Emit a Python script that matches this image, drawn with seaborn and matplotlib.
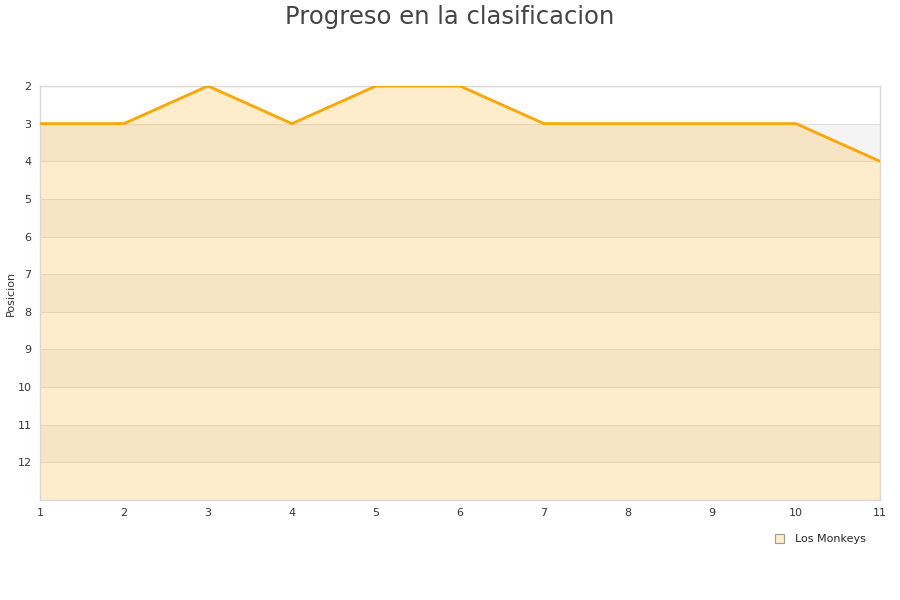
import matplotlib
matplotlib.use("Agg")
import matplotlib.pyplot as plt
import seaborn as sns
import pandas as pd
from matplotlib.patches import Patch

# Datos
jornadas = [1, 2, 3, 4, 5, 6, 7, 8, 9, 10, 11]
posiciones = [3, 3, 2, 3, 2, 2, 3, 3, 3, 3, 4]
equipo = "Los Monkeys"
y_ticks = [2, 3, 4, 5, 6, 7, 8, 9, 10, 11, 12]

df = pd.DataFrame({"jornada": jornadas, "posicion": posiciones})

sns.set_theme(style="white")
plt.rcParams["font.family"] = ["DejaVu Sans"]

fig = plt.figure(figsize=(9, 6), dpi=100)
ax = fig.add_axes([0.0444, 0.1667, 0.9333, 0.69])

y_min, y_max = 2, 13

# Bandas alternas de fondo
for i, y in enumerate(range(y_min, y_max)):
    color = "#ffffff" if i % 2 == 0 else "#f4f4f4"
    ax.axhspan(y, y + 1, color=color, zorder=0, lw=0)
for y in range(y_min, y_max + 1):
    ax.axhline(y, color="#dddddd", lw=0.8, zorder=1)

# Relleno y linea
ax.fill_between(df["jornada"], df["posicion"], y_max, color="#ffc252", alpha=0.3,
                lw=0, zorder=2)
sns.lineplot(data=df, x="jornada", y="posicion", ax=ax, color="#ffa500", lw=2.0, zorder=3)

ax.set_xlim(1, 11)
ax.set_ylim(y_max, y_min)
ax.set_xticks(jornadas)
ax.set_yticks(y_ticks)
ax.tick_params(labelsize=8, colors="#333333", length=0, pad=6)
ax.set_xlabel("")
ax.set_ylabel("Posicion", fontsize=8, color="#333333")
ax.yaxis.set_label_coords(-0.029, 0.5)

for s in ax.spines.values():
    s.set_color("#d8d8d8")
    s.set_linewidth(1)

fig.suptitle("Progreso en la clasificacion", fontsize=17.5, color="#444444", y=0.992)

handle = Patch(facecolor="#fdeccc", edgecolor="#999999", lw=0.8)
fig.legend([handle], [equipo], loc="center", bbox_to_anchor=(0.912, 0.101), frameon=False,
           fontsize=8, handlelength=0.8, handleheight=0.8, handletextpad=1.0)

fig.savefig("out.png", dpi=100)
